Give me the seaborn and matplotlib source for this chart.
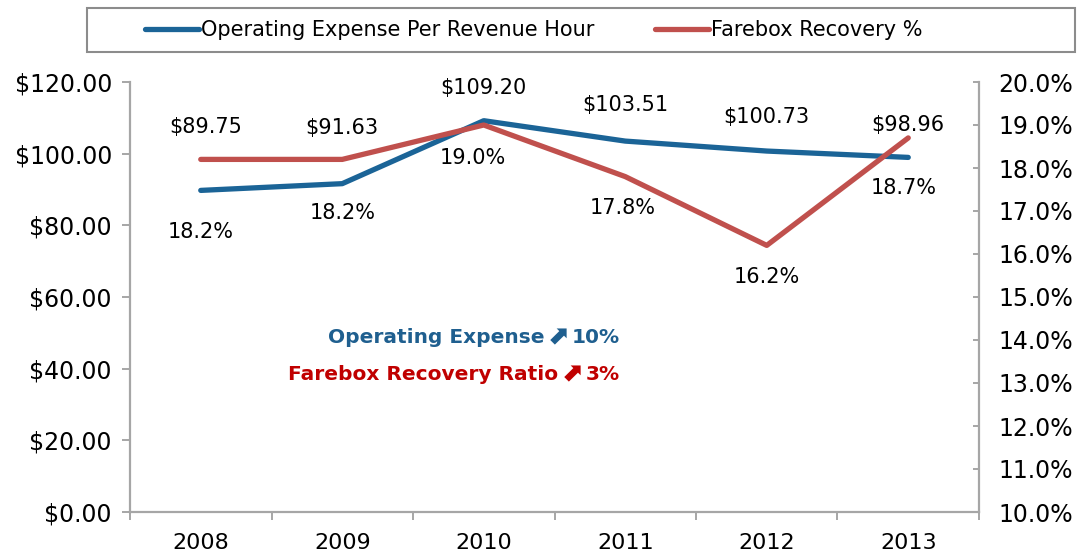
import matplotlib
matplotlib.use("Agg")
import matplotlib.pyplot as plt
import matplotlib.ticker as mticker
from matplotlib.patches import Rectangle
from matplotlib.lines import Line2D
from matplotlib.offsetbox import TextArea, HPacker, AnnotationBbox
import seaborn as sns
import pandas as pd

years = ["2008", "2009", "2010", "2011", "2012", "2013"]
op_expense = [89.75, 91.63, 109.20, 103.51, 100.73, 98.96]
farebox = [0.182, 0.182, 0.190, 0.178, 0.162, 0.187]
series_names = ["Operating Expense Per Revenue Hour", "Farebox Recovery %"]
note_expense = ["Operating Expense", "\u2b08", "10%"]
note_farebox = ["Farebox Recovery Ratio", "\u2b08", "3%"]

BLUE = "#1B6497"
RED = "#C0504D"
GRAY = "#A6A6A6"

sns.set_theme(style="white")
plt.rcParams["font.family"] = ["DejaVu Sans"]
plt.rcParams["text.color"] = "black"

df = pd.DataFrame({"year": years, "op": op_expense, "fare": farebox})

fig = plt.figure(figsize=(10.79, 5.54), dpi=100)
ax = fig.add_axes([130 / 1079, 1 - 512 / 554, 849 / 1079, 430 / 554])
ax2 = ax.twinx()

sns.lineplot(data=df, x="year", y="op", ax=ax, color=BLUE, linewidth=3.8,
             solid_capstyle="round", sort=False)
sns.lineplot(data=df, x="year", y="fare", ax=ax2, color=RED, linewidth=3.8,
             solid_capstyle="round", sort=False)

ax.set_xlim(-0.5, len(years) - 0.5)
ax.set_ylim(0, 120)
ax2.set_ylim(0.10, 0.20)
ax.set_xlabel("")
ax.set_ylabel("")
ax2.set_ylabel("")

ax.yaxis.set_major_locator(mticker.MultipleLocator(20))
ax.yaxis.set_major_formatter(mticker.FuncFormatter(lambda v, p: f"${v:,.2f}"))
ax2.yaxis.set_major_locator(mticker.MultipleLocator(0.01))
ax2.yaxis.set_major_formatter(mticker.FuncFormatter(lambda v, p: f"{v*100:.1f}%"))

ax.set_xticks(range(len(years)))
ax.set_xticklabels(years)
ax.set_xticks([i - 0.5 for i in range(len(years) + 1)], minor=True)

for a in (ax, ax2):
    for s in a.spines.values():
        s.set_visible(False)
ax.spines["left"].set_visible(True)
ax.spines["bottom"].set_visible(True)
ax2.spines["right"].set_visible(True)
for s in (ax.spines["left"], ax.spines["bottom"], ax2.spines["right"]):
    s.set_color(GRAY)
    s.set_linewidth(1.6)

ax.tick_params(axis="x", which="major", length=0, pad=15, labelsize=16, labelcolor="black")
ax.tick_params(axis="x", which="minor", length=6, width=1.4, color=GRAY, direction="out", bottom=True)
ax.tick_params(axis="y", which="major", length=6, width=1.4, color=GRAY, direction="out",
               left=True, pad=7, labelsize=17, labelcolor="black")
ax2.tick_params(axis="y", which="major", length=4, width=1.4, color=GRAY, direction="in",
                right=True, pad=14, labelsize=17, labelcolor="black")
ax.grid(False)
ax2.grid(False)

# data labels
op_off = [(5, -63), (0, -56), (0, -33), (0, -36), (0, -34), (0, -32)]
fare_off = [(0, 73), (0, 54), (-11, 33), (-3, 31), (0, 32), (-5, 50)]
for i, v in enumerate(op_expense):
    dx, dy = op_off[i]
    ax2.annotate(f"${v:,.2f}", xy=(i, v / 1200 + 0.10), xytext=(dx, -dy),
                 textcoords="offset pixels", ha="center", va="center",
                 fontsize=15, color="black")
for i, v in enumerate(farebox):
    dx, dy = fare_off[i]
    ax2.annotate(f"{v*100:.1f}%", xy=(i, v), xytext=(dx, -dy),
                 textcoords="offset pixels", ha="center", va="center",
                 fontsize=15, color="black")


def note(parts, color, yfrac):
    areas = [
        TextArea(parts[0], textprops=dict(fontsize=14.5, fontweight="bold", color=color)),
        TextArea(parts[1], textprops=dict(fontsize=19, fontweight="bold", color=color)),
        TextArea(parts[2], textprops=dict(fontsize=14.5, fontweight="bold", color=color)),
    ]
    pack = HPacker(children=areas, align="center", pad=0, sep=2)
    ab = AnnotationBbox(pack, (0.577, yfrac), xycoords=ax2.transAxes,
                        box_alignment=(1, 0.5), frameon=False, pad=0)
    ax2.add_artist(ab)


note(note_expense, "#1F5F8F", 0.405)
note(note_farebox, "#C00000", 0.319)

# legend
fig.patches.append(Rectangle((87 / 1079, 1 - 52 / 554), 988 / 1079, 44 / 554,
                             transform=fig.transFigure, fill=False,
                             edgecolor="#8C8C8C", linewidth=1.5))
handles = [Line2D([], [], color=BLUE, linewidth=3.8, solid_capstyle="round"),
           Line2D([], [], color=RED, linewidth=3.8, solid_capstyle="round")]
leg = fig.legend(handles, series_names, loc="center left",
                 bbox_to_anchor=(145 / 1079, 1 - 30 / 554), ncol=2, frameon=False,
                 fontsize=15, handlelength=2.6, handletextpad=0.1, columnspacing=2.9,
                 borderpad=0, borderaxespad=0)
for t in leg.get_texts():
    t.set_color("black")

fig.savefig("out.png", dpi=100)
